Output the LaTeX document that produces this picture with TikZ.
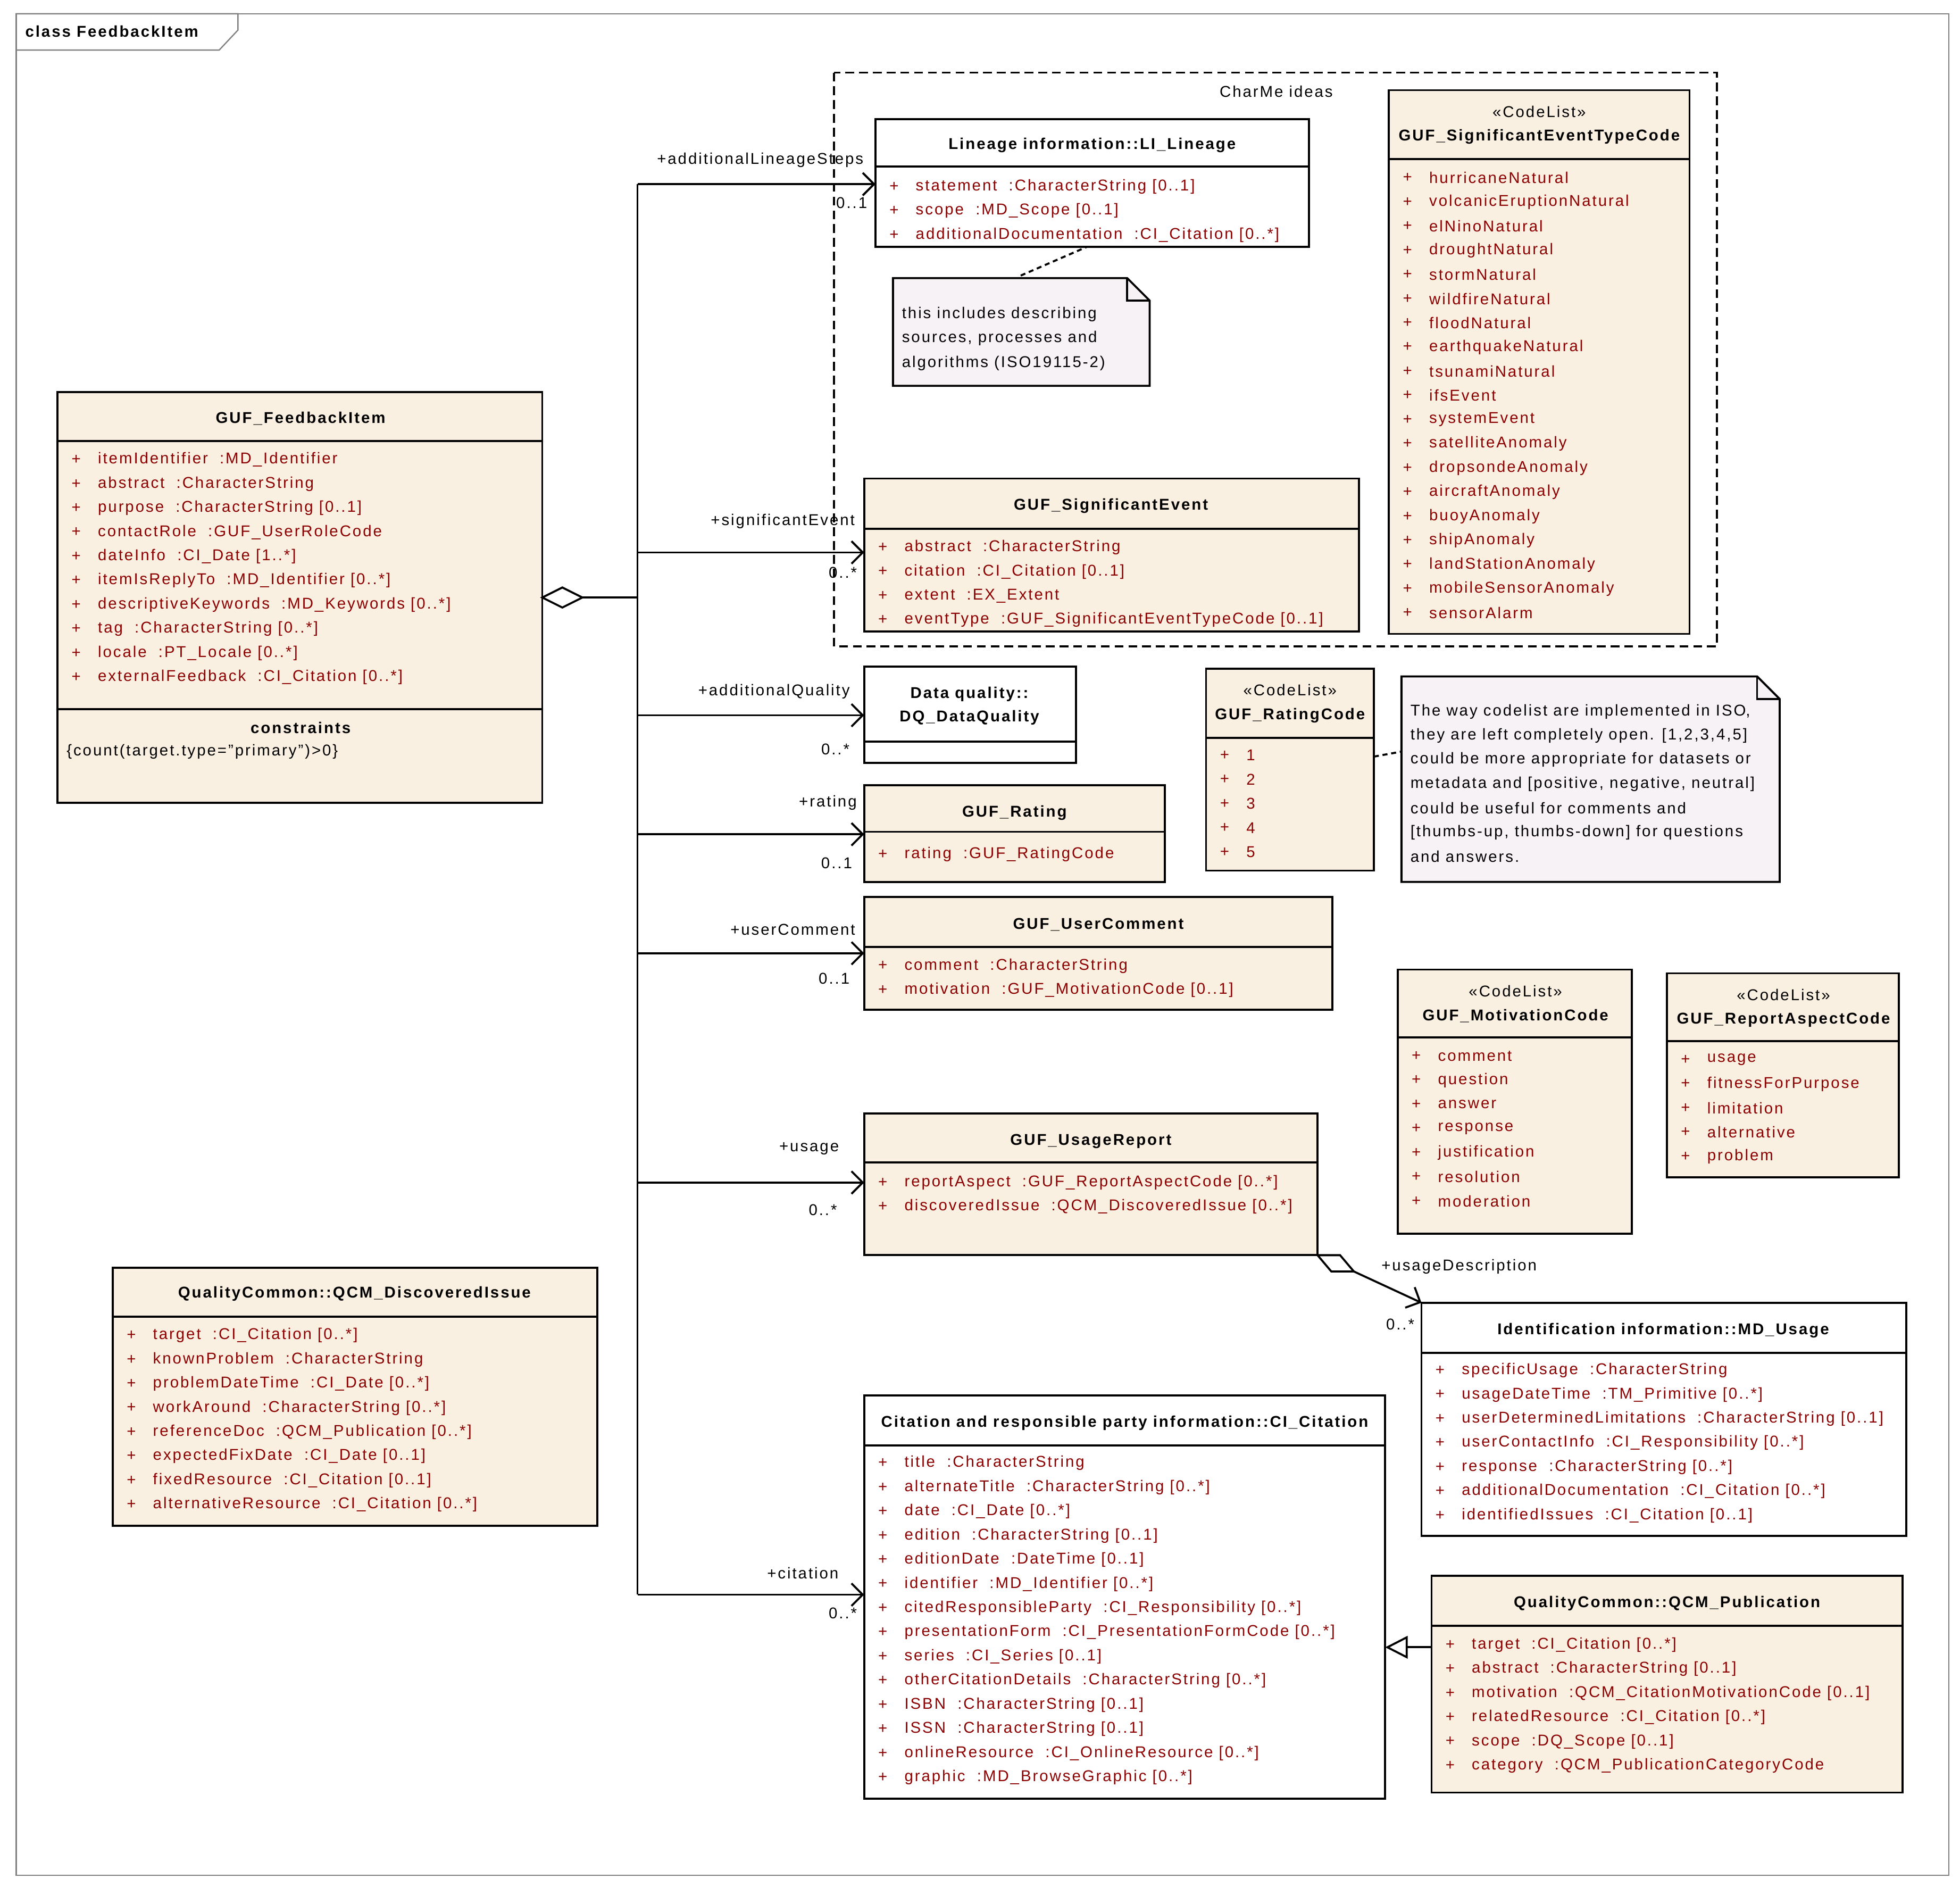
\documentclass[tikz,border=0pt]{standalone}
\usepackage{fontspec}
\setmainfont[LetterSpace=10]{Liberation Sans}
\usetikzlibrary{arrows.meta}
\definecolor{beige}{HTML}{FAF0E1}
\definecolor{notef}{HTML}{F6F2F6}
\definecolor{attcol}{HTML}{8B0000}
\newcommand\umlbox[7]{\node[box,fill=#7,minimum width={(#4-#2)*1pt},minimum height={(#5-#3)*1pt}] (#1) at (#2,#3) {};
 \draw[lw] (#2,#6) -- (#4,#6);}
\newcommand\attrlist[3]{\foreach \t [count=\i from 0] in {#3} {\node[att] at (#1+11,#2+\i*19.3) {+}; \node[att] at (#1+32,#2+\i*19.3) {\t};}}
\begin{document}
\begin{tikzpicture}[x=1pt,y=-1pt,
 lw/.style={line width=1.6pt},
 box/.style={draw,lw,anchor=north west,inner sep=0pt,outer sep=0pt},
 att/.style={anchor=west,inner sep=0pt,text=attcol,font=\fontsize{12.5}{14}\selectfont},
 txt/.style={inner sep=0pt,font=\fontsize{12.5}{14}\selectfont},
 ttl/.style={inner sep=0pt,font=\bfseries\fontsize{12.5}{14}\selectfont},
 lbl/.style={inner sep=0pt,font=\fontsize{12.5}{14}\selectfont},
 assoc/.style={lw,-{Straight Barb[length=9pt,width=18pt]}},
 note/.style={draw,lw,fill=notef}]
\useasboundingbox (0,0) rectangle (1565,1506);
% frame
\draw[gray,line width=1pt] (13,11) rectangle (1556,1497);
\draw[gray,line width=1pt,fill=white] (13,11) -- (190,11) -- (190,24) -- (175,40) -- (13,40) -- cycle;
\node[ttl,anchor=west] (frm) at (20,25) {class FeedbackItem};
% CharMe
\draw[lw,dash pattern=on 7pt off 4pt] (666,58) rectangle (1371,516);
\node[txt] (charme) at (1019,73) {CharMe ideas};
% Feedback item
\umlbox{fb}{46}{313}{433}{641}{352}{beige}
\draw[lw] (46,566) -- (433,566);
\node[ttl] at (240,334) {GUF\_FeedbackItem};
\attrlist{46}{367}{itemIdentifier~~:MD\_Identifier,abstract~~:CharacterString,purpose~~:CharacterString [0..1],contactRole~~:GUF\_UserRoleCode,dateInfo~~:CI\_Date [1..*],itemIsReplyTo~~:MD\_Identifier [0..*],descriptiveKeywords~~:MD\_Keywords [0..*],tag~~:CharacterString [0..*],locale~~:PT\_Locale [0..*],externalFeedback~~:CI\_Citation [0..*]}
\node[ttl] at (240,581) {constraints};
\node[txt,anchor=west] at (53,600) {\{count(target.type="primary")>0\}};
% Lineage
\umlbox{lin}{699}{95}{1045}{197}{133}{white}
\node[ttl] at (872,116) {Lineage information::LI\_Lineage};
\attrlist{699}{149}{statement~~:CharacterString [0..1],scope~~:MD\_Scope [0..1],additionalDocumentation~~:CI\_Citation [0..*]}
% note 1
\draw[note] (713,222) -- (900,222) -- (918,240) -- (918,308) -- (713,308) -- cycle;
\draw[lw] (900,222) -- (900,240) -- (918,240);
\coordinate (n1) at (815,220);
\node[txt,anchor=west] at (720,251) {this includes describing};
\node[txt,anchor=west] at (720,270) {sources, processes and};
\node[txt,anchor=west] at (720,290) {algorithms (ISO19115-2)};
\draw[lw,dash pattern=on 4pt off 3pt] (n1) -- (868,197);
% Event type code
\umlbox{setc}{1109}{72}{1349}{506}{127}{beige}
\node[txt] at (1229,89) {«CodeList»};
\node[ttl] at (1229,109) {GUF\_SignificantEventTypeCode};
\attrlist{1109}{142}{hurricaneNatural,volcanicEruptionNatural,elNinoNatural,droughtNatural,stormNatural,wildfireNatural,floodNatural,earthquakeNatural,tsunamiNatural,ifsEvent,systemEvent,satelliteAnomaly,dropsondeAnomaly,aircraftAnomaly,buoyAnomaly,shipAnomaly,landStationAnomaly,mobileSensorAnomaly,sensorAlarm}
% Significant event
\umlbox{sev}{690}{382}{1085}{504}{422}{beige}
\node[ttl] at (887,404) {GUF\_SignificantEvent};
\attrlist{690}{437}{abstract~~:CharacterString,citation~~:CI\_Citation [0..1],extent~~:EX\_Extent,eventType~~:GUF\_SignificantEventTypeCode [0..1]}
% DQ
\umlbox{dq}{690}{532}{859}{609}{592}{white}
\node[ttl] at (774,554) {Data quality::};
\node[ttl] at (774,573) {DQ\_DataQuality};
% Rating code
\umlbox{rc}{963}{534}{1097}{695}{589}{beige}
\node[txt] at (1030,551) {«CodeList»};
\node[ttl] at (1030,571) {GUF\_RatingCode};
\attrlist{963}{603}{1,2,3,4,5}
% note 2
\draw[note] (1119,540) -- (1403,540) -- (1421,558) -- (1421,704) -- (1119,704) -- cycle;
\draw[lw] (1403,540) -- (1403,558) -- (1421,558);
\coordinate (n2) at (1119,600);
\foreach \l [count=\i from 0] in {The way codelist are implemented in ISO\rlap{,},they are left completely open. [1{,}2{,}3{,}4{,}5],could be more appropriate for datasets or,metadata and [positive{,} negative{,} neutral],could be useful for comments and,[thumbs-up{,} thumbs-down] for questions,and answers.}
 \node[txt,anchor=west] at (1126,568+\i*19.3) {\l};
\draw[lw,dash pattern=on 4pt off 3pt] (rc.east|-n2) ++(0,4) -- (n2);
% Rating
\umlbox{rat}{690}{627}{930}{704}{664}{beige}
\node[ttl] at (810,649) {GUF\_Rating};
\attrlist{690}{682}{rating~~:GUF\_RatingCode}
% User comment
\umlbox{uc}{690}{716}{1064}{806}{756}{beige}
\node[ttl] at (877,738) {GUF\_UserComment};
\attrlist{690}{771}{comment~~:CharacterString,motivation~~:GUF\_MotivationCode [0..1]}
% Motivation code
\umlbox{mc}{1116}{774}{1303}{985}{828}{beige}
\node[txt] at (1210,791) {«CodeList»};
\node[ttl] at (1210,811) {GUF\_MotivationCode};
\attrlist{1116}{843}{comment,question,answer,response,justification,resolution,moderation}
% Report aspect code
\umlbox{rac}{1331}{777}{1516}{940}{831}{beige}
\node[txt] at (1424,794) {«CodeList»};
\node[ttl] at (1424,814) {GUF\_ReportAspectCode};
\attrlist{1331}{846}{usage,fitnessForPurpose,limitation,alternative,problem}
% Usage report
\umlbox{ur}{690}{889}{1052}{1002}{928}{beige}
\node[ttl] at (871,911) {GUF\_UsageReport};
\attrlist{690}{944}{reportAspect~~:GUF\_ReportAspectCode [0..*],discoveredIssue~~:QCM\_DiscoveredIssue [0..*]}
% MD_Usage
\umlbox{mdu}{1135}{1040}{1522}{1226}{1080}{white}
\node[ttl] at (1328,1062) {Identification information::MD\_Usage};
\attrlist{1135}{1094}{specificUsage~~:CharacterString,usageDateTime~~:TM\_Primitive [0..*],userDeterminedLimitations~~:CharacterString [0..1],userContactInfo~~:CI\_Responsibility [0..*],response~~:CharacterString [0..*],additionalDocumentation~~:CI\_Citation [0..*],identifiedIssues~~:CI\_Citation [0..1]}
% Discovered issue
\umlbox{di}{90}{1012}{477}{1218}{1051}{beige}
\node[ttl] at (283,1033) {QualityCommon::QCM\_DiscoveredIssue};
\attrlist{90}{1066}{target~~:CI\_Citation [0..*],knownProblem~~:CharacterString,problemDateTime~~:CI\_Date [0..*],workAround~~:CharacterString [0..*],referenceDoc~~:QCM\_Publication [0..*],expectedFixDate~~:CI\_Date [0..1],fixedResource~~:CI\_Citation [0..1],alternativeResource~~:CI\_Citation [0..*]}
% CI_Citation
\umlbox{cit}{690}{1114}{1106}{1436}{1154}{white}
\node[ttl] at (898,1136) {Citation and responsible party information::CI\_Citation};
\attrlist{690}{1168}{title~~:CharacterString,alternateTitle~~:CharacterString [0..*],date~~:CI\_Date [0..*],edition~~:CharacterString [0..1],editionDate~~:DateTime [0..1],identifier~~:MD\_Identifier [0..*],citedResponsibleParty~~:CI\_Responsibility [0..*],presentationForm~~:CI\_PresentationFormCode [0..*],series~~:CI\_Series [0..1],otherCitationDetails~~:CharacterString [0..*],ISBN~~:CharacterString [0..1],ISSN~~:CharacterString [0..1],onlineResource~~:CI\_OnlineResource [0..*],graphic~~:MD\_BrowseGraphic [0..*]}
% Publication
\umlbox{pub}{1143}{1258}{1519}{1431}{1298}{beige}
\node[ttl] at (1331,1280) {QualityCommon::QCM\_Publication};
\attrlist{1143}{1313}{target~~:CI\_Citation [0..*],abstract~~:CharacterString [0..1],motivation~~:QCM\_CitationMotivationCode [0..1],relatedResource~~:CI\_Citation [0..*],scope~~:DQ\_Scope [0..1],category~~:QCM\_PublicationCategoryCode}
% connectors
\coordinate (tA) at (509,477);
\coordinate (t1) at (509,147);
\coordinate (t2) at (509,441);
\coordinate (t3) at (509,571);
\coordinate (t4) at (509,666);
\coordinate (t5) at (509,761);
\coordinate (t6) at (509,944);
\coordinate (t7) at (509,1273);
\draw[lw,fill=white] (fb.east|-tA) -- ++(16,-8) -- ++(16,8) -- ++(-16,8) -- cycle;
\draw[lw] (465,477) -- (tA);
\draw[lw] (t1) -- (t7);
\draw[assoc] (t1) -- (lin.west|-t1);
\draw[assoc] (t2) -- (sev.west|-t2);
\draw[assoc] (t3) -- (dq.west|-t3);
\draw[assoc] (t4) -- (rat.west|-t4);
\draw[assoc] (t5) -- (uc.west|-t5);
\draw[assoc] (t6) -- (ur.west|-t6);
\draw[assoc] (t7) -- (cit.west|-t7);
\node[lbl] at (607,128) {+additionalLineageSteps};
\node[lbl] at (680,162) {0..1};
\node[lbl] at (625,416) {+significantEvent};
\node[lbl] at (673,457) {0..*};
\node[lbl] at (618,552) {+additionalQuality};
\node[lbl] at (667,598) {0..*};
\node[lbl] at (661,641) {+rating};
\node[lbl] at (668,689) {0..1};
\node[lbl] at (633,742) {+userComment};
\node[lbl] at (666,781) {0..1};
\node[lbl] at (646,917) {+usage};
\node[lbl] at (657,966) {0..*};
\node[lbl] at (641,1256) {+citation};
\node[lbl] at (673,1288) {0..*};
% usage aggregation
\draw[lw,fill=white] (ur.south east) -- ++(18,0) -- ++(11,13) -- ++(-18,0) -- cycle;
\draw[assoc] (1081,1015) -- (mdu.north west);
\node[lbl] at (1165,1011) {+usageDescription};
\node[lbl] at (1118,1057) {0..*};
% generalization
\coordinate (g) at (1143,1315);
\draw[lw,-{Triangle[open,length=18pt,width=18pt]}] (pub.west|-g) -- (cit.east|-g);
\end{tikzpicture}
\end{document}
